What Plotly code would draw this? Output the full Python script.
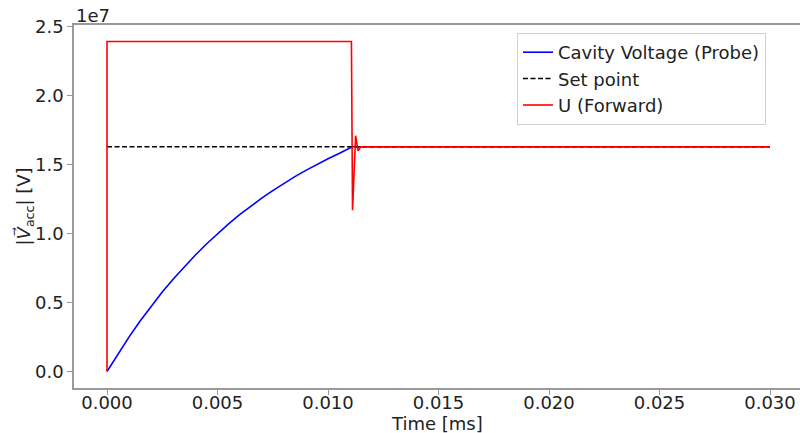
import plotly.graph_objects as go

# Cavity voltage (probe)
probe_t = [0.0, 0.0005, 0.001, 0.0015, 0.002, 0.0025, 0.003, 0.0035, 0.004, 0.0045, 0.005,
           0.0055, 0.006, 0.0065, 0.007, 0.0075, 0.008, 0.0085, 0.009, 0.0095, 0.010,
           0.0105, 0.011, 0.0111, 0.030]
probe_v = [0.0, 1.30e6, 2.51e6, 3.66e6, 4.74e6, 5.76e6, 6.71e6, 7.61e6, 8.45e6, 9.25e6, 10.0e6,
           10.70e6, 11.37e6, 11.99e6, 12.57e6, 13.12e6, 13.64e6, 14.13e6, 14.59e6, 15.02e6, 15.43e6,
           15.81e6, 16.17e6, 16.3e6, 16.3e6]

# Set point
set_t = [0.0, 0.030]
set_v = [16.3e6, 16.3e6]

# Forward drive U
u_t = [0.0, 0.0, 0.01106, 0.01111, 0.01125, 0.01136, 0.01148, 0.030]
u_v = [0.0, 23.93e6, 23.93e6, 11.7e6, 17.1e6, 16.0e6, 16.3e6, 16.3e6]

x_ticks = [0.0, 0.005, 0.010, 0.015, 0.020, 0.025, 0.030]
x_tick_text = ["0.000", "0.005", "0.010", "0.015", "0.020", "0.025", "0.030"]
y_ticks = [0.0, 0.5e7, 1.0e7, 1.5e7, 2.0e7, 2.5e7]
y_tick_text = ["0.0", "0.5", "1.0", "1.5", "2.0", "2.5"]

FONT = "DejaVu Sans"
FS = 18
TXT = "#222222"
AX = "#9a9a9a"

fig = go.Figure()
fig.add_trace(go.Scatter(x=probe_t, y=probe_v, mode="lines", name="Cavity Voltage (Probe)",
                         line=dict(color="#0000ff", width=1.6)))
fig.add_trace(go.Scatter(x=set_t, y=set_v, mode="lines", name="Set point",
                         line=dict(color="#000000", width=1.5, dash="5px,2.5px")))
fig.add_trace(go.Scatter(x=u_t, y=u_v, mode="lines", name="U (Forward)",
                         line=dict(color="#ff0000", width=1.6)))

fig.update_layout(
    width=800, height=433,
    margin=dict(l=74, r=0, t=25, b=45),
    paper_bgcolor="white", plot_bgcolor="white",
    font=dict(family=FONT, size=FS, color=TXT),
    showlegend=True,
    legend=dict(x=(517 - 74) / 726, y=1 - 8 / 363, xanchor="left", yanchor="top",
                bgcolor="rgba(255,255,255,0.85)", bordercolor="#d0d0d0", borderwidth=1,
                font=dict(family=FONT, size=FS, color=TXT), tracegroupgap=0),
    xaxis=dict(range=[-0.001493, 0.031357], tickvals=x_ticks, ticktext=x_tick_text,
               showgrid=False, zeroline=False, showline=True, linecolor=AX, linewidth=1.5,
               mirror=True, ticks="outside", ticklen=5, tickcolor=AX, tickwidth=1,
               ticklabelstandoff=-7,
               tickfont=dict(family=FONT, size=FS, color=TXT)),
    yaxis=dict(range=[-1.197e6, 2.513e7], tickvals=y_ticks, ticktext=y_tick_text,
               showgrid=False, zeroline=False, showline=True, linecolor=AX, linewidth=1.5,
               mirror=False, ticks="outside", ticklen=5, tickcolor=AX, tickwidth=1,
               tickfont=dict(family=FONT, size=FS, color=TXT)),
)

fig.add_annotation(xref="paper", yref="paper", x=0.5, y=0, xanchor="center", yanchor="middle",
                   yshift=-35, text="Time [ms]", showarrow=False,
                   font=dict(family=FONT, size=FS, color=TXT))
fig.add_annotation(xref="paper", yref="paper", x=0, y=1, xanchor="left", yanchor="bottom",
                   text="1e7", showarrow=False, yshift=-3,
                   font=dict(family=FONT, size=FS, color=TXT))
fig.add_annotation(xref="paper", yref="paper", x=-50 / 726, y=0.5, xanchor="center", yanchor="middle",
                   text="|<i>V\u20d7</i><sub>acc</sub>| [V]", textangle=-90, showarrow=False,
                   font=dict(family=FONT, size=FS, color=TXT))

fig.write_html("out.html")
